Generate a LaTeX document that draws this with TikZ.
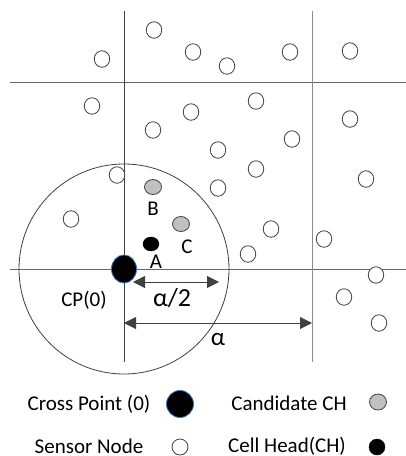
\documentclass[tikz,border=0pt]{standalone}
\usepackage{fontspec}
\setmainfont{Carlito}
\usetikzlibrary{shapes.geometric,arrows.meta}
\definecolor{gridgray}{HTML}{666666}
\definecolor{gridlight}{HTML}{8C8C8C}
\definecolor{outline}{HTML}{404040}
\definecolor{candgray}{HTML}{C0C0C0}
\definecolor{cpblue}{HTML}{2E75B6}
\begin{document}
\begin{tikzpicture}[x=1pt,y=-1pt,
  sensor/.style={ellipse,draw=outline,line width=0.8pt,fill=white,minimum width=15.5pt,minimum height=16.5pt,inner sep=0pt},
  candidate/.style={ellipse,draw=outline,line width=0.8pt,fill=candgray,minimum width=17pt,minimum height=15pt,inner sep=0pt},
  cellhead/.style={ellipse,draw=black,fill=black,minimum width=16pt,minimum height=14pt,inner sep=0pt},
  crosspt/.style={ellipse,draw=cpblue,line width=0.8pt,fill=black,inner sep=0pt},
  gridline/.style={draw=gridgray,line width=0.8pt},
  lbl/.style={inner sep=0pt,font=\fontsize{21}{25}\selectfont},
  dim/.style={draw=outline,line width=1pt,{Triangle[length=12pt,width=12pt]}-{Triangle[length=12pt,width=12pt]}}
]
\useasboundingbox (0,0) rectangle (406,456);

% grid of cells
\coordinate (v1t) at (124,11);  \coordinate (v1b) at (124,362);
\coordinate (v2t) at (312,11);  \coordinate (v2b) at (312,362);
\coordinate (h1l) at (10,82);   \coordinate (h1r) at (406,82);
\coordinate (h2l) at (10,269);  \coordinate (h2r) at (406,269);
\draw[gridline] (h1l) -- (h1r);
\draw[gridline] (h2l) -- (h2r);
\draw[gridline,draw=outline] (v1t) -- (v1b);
\draw[gridline,draw=gridlight] (v2t) -- (v2b);

% coverage circle around the cross point
\draw[outline,line width=0.8pt] (124,269) circle[radius=105];

% sensor nodes
\foreach \x/\y [count=\i] in {154/30,102/59,193/52,227/66,290/52,350/51,
  92/106,191/112,256/101,153/130,350/119,292/139,218/150,256/169,117/175,
  366/179,218/188,71/219,271/229,324/239,248/254,376/275,344/297,379/323}
  \node[sensor] (s\i) at (\x,\y) {};

% candidate cell heads and chosen cell head
\node[candidate] (B) at (153,187) {};
\node[candidate] (C) at (181,224) {};
\node[cellhead] (A) at (151,244) {};
\node[lbl] at (153,209) {B};
\node[lbl] at (187,247) {C};
\node[lbl] at (156,262) {A};

% cross point
\node[crosspt,minimum width=25pt,minimum height=28pt] (cp) at (124,269) {};
\node[lbl] (cplbl) at (84,300) {CP(0)};

% distances
\coordinate (d1a) at (133,282); \coordinate (d1b) at (219,282);
\coordinate (d2a) at (124,323); \coordinate (d2b) at (312,323);
\draw[dim] (d1a) -- (d1b);
\draw[dim] (d2a) -- (d2b);
\node[inner sep=0pt,font=\fontsize{26}{30}\selectfont] (half) at (172,298) {α/2};
\node[inner sep=0pt,font=\fontsize{25}{30}\selectfont] (full) at (218,340) {α};

% legend
\node[lbl] (l1) at (89,404) {Cross Point (0)};
\node[crosspt,minimum width=27pt,minimum height=27pt] (k1) at (180,404) {};
\node[lbl] (l2) at (289,403) {Candidate CH};
\node[candidate,minimum width=17pt,minimum height=16pt] (k2) at (378,402) {};
\node[lbl] (l3) at (89,446) {Sensor Node};
\node[sensor,minimum width=16pt,minimum height=16pt] (k3) at (180,447) {};
\node[lbl] (l4) at (287,446) {Cell Head(CH)};
\node[cellhead,minimum width=16pt,minimum height=16pt] (k4) at (377,447) {};
\end{tikzpicture}
\end{document}
